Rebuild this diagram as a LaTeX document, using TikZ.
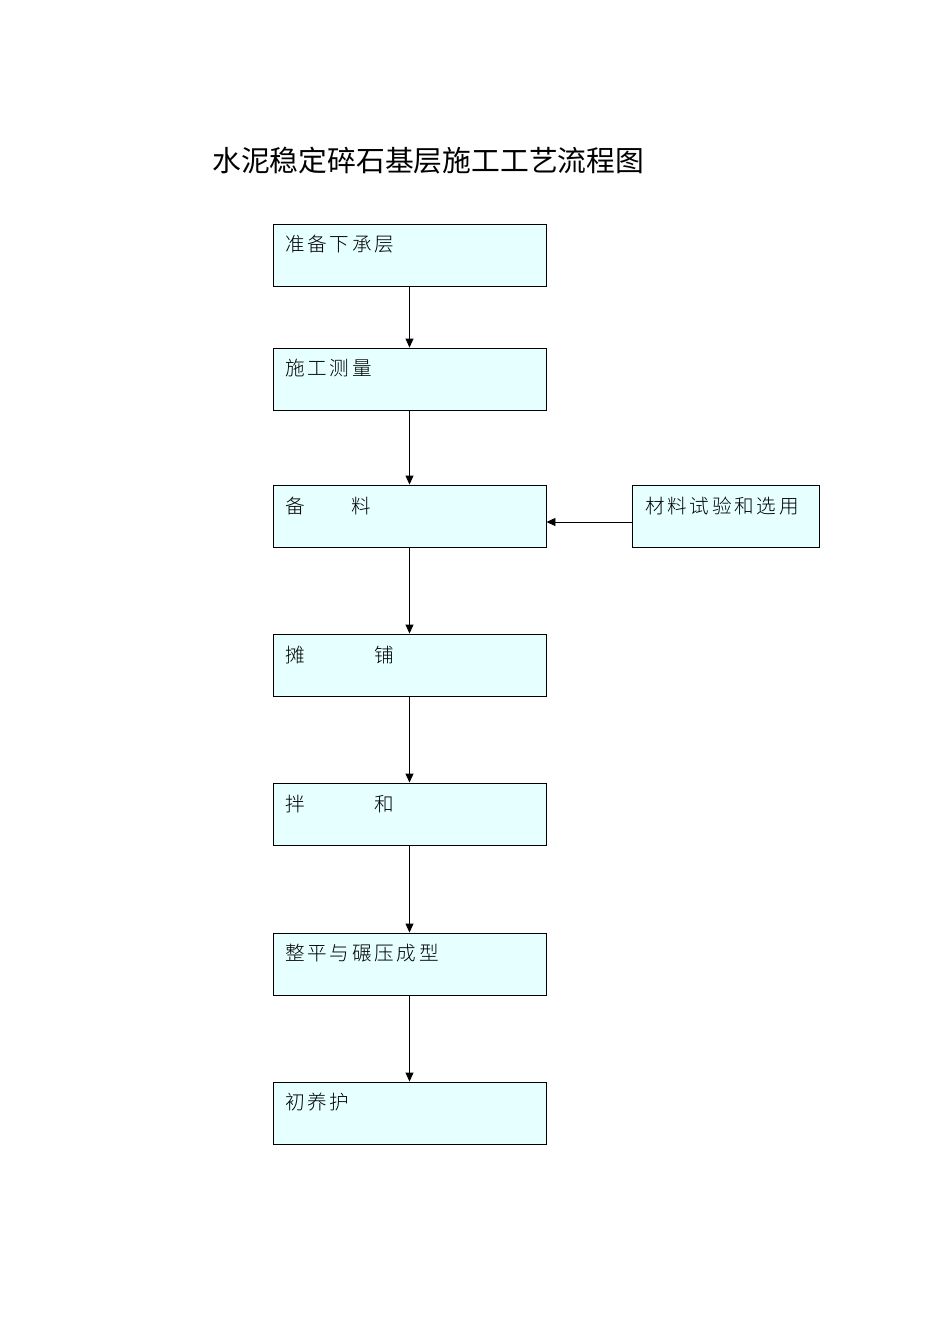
\documentclass[tikz,border=0pt]{standalone}
\usepackage{fontspec}
\usetikzlibrary{arrows.meta}
\newfontfamily\cjk{Noto Sans CJK SC}
\newfontfamily\boxfont[LetterSpace=14]{Noto Sans CJK SC Light}
\definecolor{boxfill}{HTML}{E6FFFF}
\begin{document}
\begin{tikzpicture}[x=1pt,y=-1pt,
  stepbox/.style={draw=black,line width=0.9pt,fill=boxfill,rectangle,minimum width=273pt,minimum height=62pt,inner sep=0pt},
  sidebox/.style={stepbox,minimum width=187pt},
  lbl/.style={anchor=west,inner sep=0pt,font=\boxfont\fontsize{19.6pt}{21pt}\selectfont},
  conn/.style={line width=0.9pt,-{Triangle[length=9pt,width=8pt]}}]
\useasboundingbox (0,0) rectangle (950,1344);
\node[anchor=west,inner sep=0pt,font=\cjk\fontsize{28.8pt}{31pt}\selectfont] (title) at (212,161) {水泥稳定碎石基层施工工艺流程图};
\node[stepbox] (b1) at (409.5,255) {};
\node[stepbox] (b2) at (409.5,379) {};
\node[stepbox] (b3) at (409.5,516) {};
\node[stepbox] (b4) at (409.5,665) {};
\node[stepbox] (b5) at (409.5,814) {};
\node[stepbox] (b6) at (409.5,964) {};
\node[stepbox] (b7) at (409.5,1113) {};
\node[sidebox] (s) at (725.5,516) {};
\node[lbl] (t1) at (285,244) {准备下承层};
\node[lbl] (t2) at (285,368) {施工测量};
\node[lbl] (t3) at (285,506) {备\hspace{47pt}料};
\node[lbl] (t4) at (285,655) {摊\hspace{70pt}铺};
\node[lbl] (t5) at (285,804) {拌\hspace{70pt}和};
\node[lbl] (t6) at (285,953) {整平与碾压成型};
\node[lbl] (t7) at (285,1102) {初养护};
\node[lbl] (ts) at (645,506) {材料试验和选用};
\draw[conn] (b1) -- (b2);
\draw[conn] (b2) -- (b3);
\draw[conn] (b3) -- (b4);
\draw[conn] (b4) -- (b5);
\draw[conn] (b5) -- (b6);
\draw[conn] (b6) -- (b7);
\draw[conn] ([yshift=-6pt]s.west) -- ([yshift=-6pt]b3.east);
\end{tikzpicture}
\end{document}
